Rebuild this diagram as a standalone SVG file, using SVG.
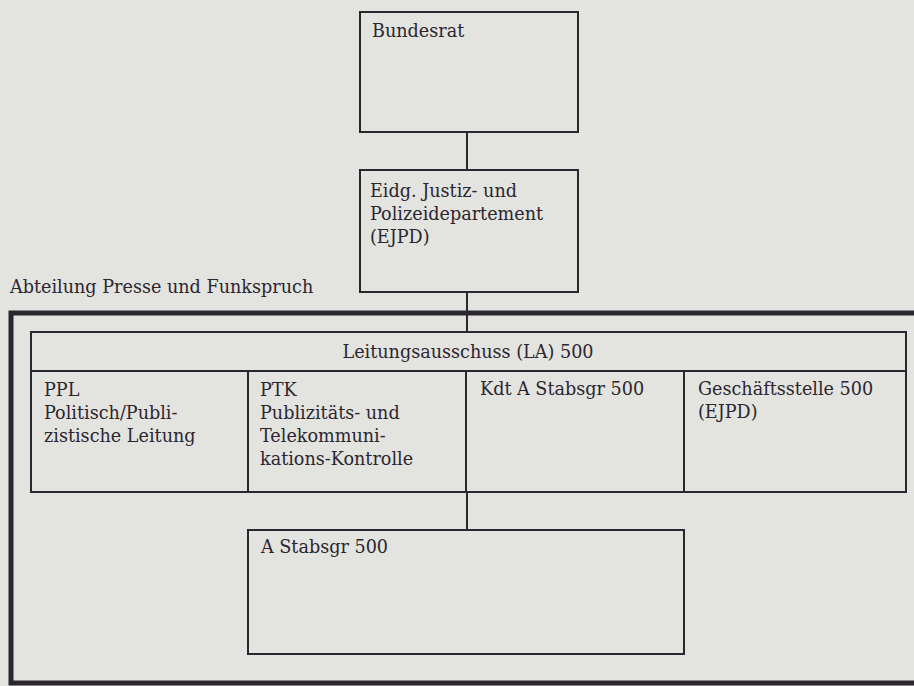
<svg xmlns="http://www.w3.org/2000/svg" width="914" height="686" viewBox="0 0 914 686">
<style>
.box{fill:none;stroke:#2b2630;stroke-width:2}
.conn{fill:none;stroke:#2b2630;stroke-width:2}
.frame{fill:none;stroke:#2b2630;stroke-width:5}
text{font-family:"DejaVu Serif","Liberation Serif",serif;font-size:17.6px;fill:#2b2630}
</style>
<rect x="0" y="0" width="914" height="686" fill="#e3e3df"/>
<g id="connectors">
<line class="conn" x1="467" y1="132" x2="467" y2="170"/>
<line class="conn" x1="467" y1="292" x2="467" y2="332"/>
<line class="conn" x1="467" y1="492" x2="467" y2="530"/>
</g>
<g id="bundesrat">
<rect class="box" x="360" y="12" width="218" height="120"/>
<text x="372" y="37">Bundesrat</text>
</g>
<g id="ejpd">
<rect class="box" x="360" y="170" width="218" height="122"/>
<text x="370" y="197">Eidg. Justiz- und</text>
<text x="370" y="220">Polizeidepartement</text>
<text x="370" y="243">(EJPD)</text>
</g>
<g id="abteilung">
<text x="10" y="293">Abteilung Presse und Funkspruch</text>
<path class="frame" d="M 920 313 L 11 313 L 11 683 L 920 683"/>
</g>
<g id="la">
<rect class="box" x="31" y="332" width="875" height="39"/>
<text x="468" y="358" text-anchor="middle">Leitungsausschuss (LA) 500</text>
</g>
<g id="ppl">
<rect class="box" x="31" y="371" width="217" height="121"/>
<text x="44" y="396">PPL</text>
<text x="44" y="419">Politisch/Publi-</text>
<text x="44" y="442">zistische Leitung</text>
</g>
<g id="ptk">
<rect class="box" x="248" y="371" width="218" height="121"/>
<text x="260" y="396">PTK</text>
<text x="260" y="419">Publizitäts- und</text>
<text x="260" y="442">Telekommuni-</text>
<text x="260" y="465">kations-Kontrolle</text>
</g>
<g id="kdt">
<rect class="box" x="466" y="371" width="218" height="121"/>
<text x="480" y="395">Kdt A Stabsgr 500</text>
</g>
<g id="geschaeftsstelle">
<rect class="box" x="684" y="371" width="222" height="121"/>
<text x="698" y="395">Geschäftsstelle 500</text>
<text x="698" y="418">(EJPD)</text>
</g>
<g id="astabsgr">
<rect class="box" x="248" y="530" width="436" height="124"/>
<text x="261" y="553">A Stabsgr 500</text>
</g>
</svg>
